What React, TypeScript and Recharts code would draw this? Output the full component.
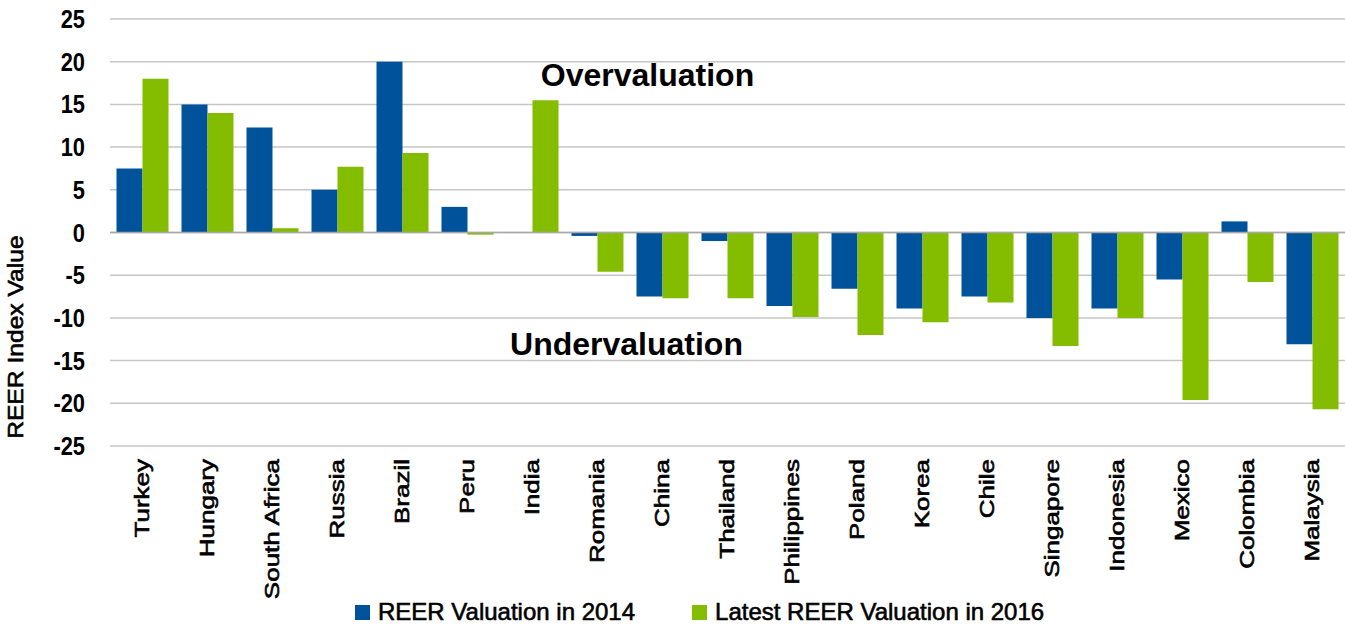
import React from 'react';
import {
  BarChart,
  Bar,
  XAxis,
  YAxis,
  CartesianGrid,
  ReferenceLine,
  ReferenceDot,
  Legend,
} from 'recharts';

const countries = [
  'Turkey', 'Hungary', 'South Africa', 'Russia', 'Brazil', 'Peru', 'India', 'Romania', 'China',
  'Thailand', 'Philippines', 'Poland', 'Korea', 'Chile', 'Singapore', 'Indonesia', 'Mexico',
  'Colombia', 'Malaysia',
];
const reer2014 = [7.5, 15, 12.3, 5, 20, 3, 0, -0.4, -7.5, -1, -8.6, -6.6, -8.9, -7.5, -10, -8.9, -5.5, 1.3, -13.1];
const reer2016 = [18, 14, 0.5, 7.7, 9.3, -0.25, 15.5, -4.6, -7.7, -7.7, -9.9, -12, -10.5, -8.2, -13.3, -10, -19.6, -5.8, -20.7];
const yTicks = [-25, -20, -15, -10, -5, 0, 5, 10, 15, 20, 25];
const seriesNames = ['REER Valuation in 2014', 'Latest REER Valuation in 2016'];
const seriesColors = ['#00529B', '#84BD00'];
const yAxisTitle = 'REER Index Value';
const overLabel = 'Overvaluation';
const underLabel = 'Undervaluation';

const data = countries.map((c, i) => ({ country: c, v2014: reer2014[i], v2016: reer2016[i] }));

const FONT = '"Liberation Sans", Arial, sans-serif';

const XTick = (props: any) => {
  const { x, y, payload } = props;
  return (
    <g transform={`translate(${x},${y + 13}) rotate(-90)`}>
      <text
        transform="scale(1.3,1)"
        textAnchor="end"
        dy={6}
        fontSize={20}
        fill="#000"
        stroke="#000"
        strokeWidth={0.6}
        fontFamily={FONT}
      >
        {payload.value}
      </text>
    </g>
  );
};

const YTick = (props: any) => {
  const { x, y, payload } = props;
  return (
    <g transform={`translate(${x},${y}) scale(0.84,1)`}>
      <text textAnchor="end" dy={9} fontSize={26} fontWeight="bold" fill="#000" fontFamily={FONT}>
        {payload.value}
      </text>
    </g>
  );
};

const YTitle = (props: any) => {
  const vb = props.viewBox || { x: 0, y: 0, width: 0, height: 0 };
  const cx = vb.x + 15;
  const cy = vb.y + vb.height * 0.745;
  return (
    <g transform={`translate(${cx},${cy}) rotate(-90)`}>
      <text
        transform="scale(1.12,1)"
        textAnchor="middle"
        dy={8}
        fontSize={22}
        fill="#000"
        stroke="#000"
        strokeWidth={0.6}
        fontFamily={FONT}
      >
        {yAxisTitle}
      </text>
    </g>
  );
};

const makeAnno = (text: string, dx: number) => (props: any) => {
  const vb = props.viewBox || { x: 0, y: 0 };
  const cx = (vb.x ?? 0) + (vb.width ?? 0) / 2 + dx;
  const cy = (vb.y ?? 0) + (vb.height ?? 0) / 2;
  return (
    <text x={cx} y={cy} dy={11} textAnchor="middle" fontSize={32} fontWeight="bold" fill="#000" fontFamily={FONT}>
      {text}
    </text>
  );
};

const renderLegend = () => (
  <div
    style={{
      display: 'flex',
      alignItems: 'center',
      height: 36,
      paddingLeft: 355,
      fontFamily: FONT,
      fontSize: 24,
      color: '#000',
      whiteSpace: 'nowrap',
      WebkitTextStroke: '0.6px #000',
    }}
  >
    {seriesNames.map((n, i) => (
      <div key={n} style={{ display: 'flex', alignItems: 'center', marginRight: 57 }}>
        <span style={{ display: 'inline-block', width: 15, height: 15, background: seriesColors[i], marginRight: 8 }} />
        <span>{n}</span>
      </div>
    ))}
  </div>
);

export default function App() {
  return (
    <div style={{ position: 'absolute', left: 0, top: 0, background: '#fff', fontFamily: FONT }}>
      <BarChart
        width={1345}
        height={630}
        data={data}
        margin={{ top: 19, right: 0, bottom: 0, left: 0 }}
        barCategoryGap="10%"
        barGap={0}
      >
        <CartesianGrid vertical={false} stroke="#c6c6c6" strokeWidth={1.5} />
        <XAxis
          dataKey="country"
          interval={0}
          height={148}
          tickSize={0}
          tickMargin={0}
          tickLine={false}
          axisLine={false}
          tick={<XTick />}
        />
        <YAxis
          width={110}
          domain={[-25, 25]}
          ticks={yTicks}
          interval={0}
          tickSize={0}
          tickMargin={25}
          tickLine={false}
          axisLine={false}
          tick={<YTick />}
          label={<YTitle />}
        />
        <ReferenceLine y={0} stroke="#a8a8a8" strokeWidth={1.5} />
        <Bar dataKey="v2014" name={seriesNames[0]} fill={seriesColors[0]} isAnimationActive={false} />
        <Bar dataKey="v2016" name={seriesNames[1]} fill={seriesColors[1]} isAnimationActive={false} />
        <ReferenceDot x="China" y={18.5} r={0} fill="none" stroke="none" label={makeAnno(overLabel, -15)} />
        <ReferenceDot x="China" y={-13.1} r={0} fill="none" stroke="none" label={makeAnno(underLabel, -36)} />
        <Legend verticalAlign="bottom" align="left" height={36} content={renderLegend} wrapperStyle={{ left: 0, width: 1345 }} />
      </BarChart>
    </div>
  );
}
